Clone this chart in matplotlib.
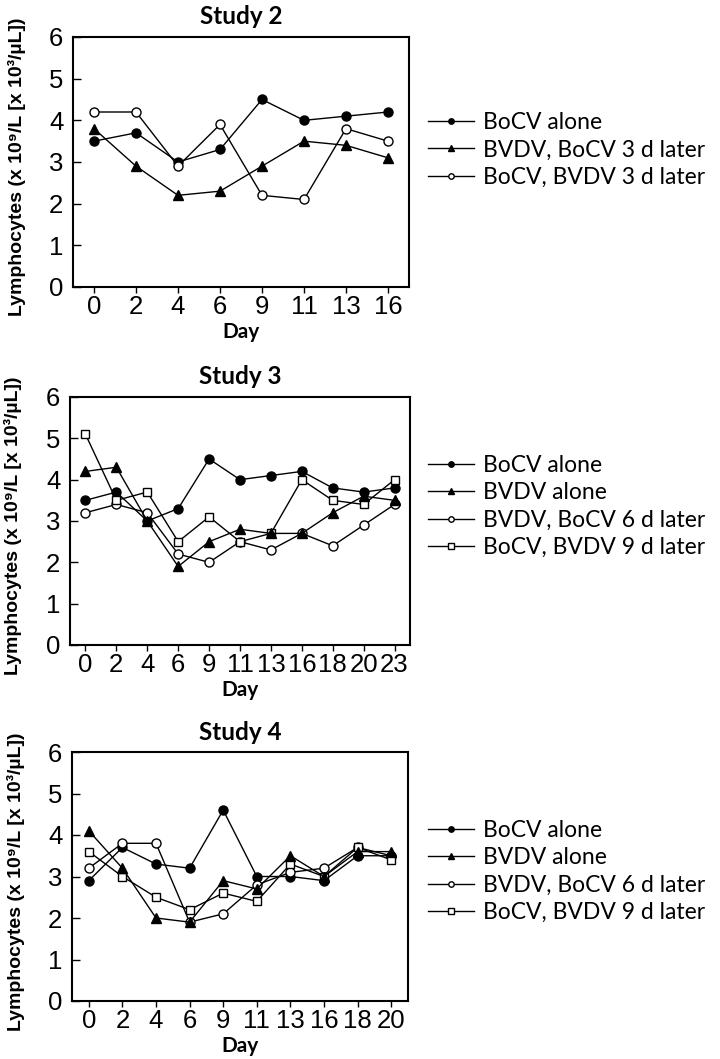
import matplotlib
matplotlib.use("Agg")
import matplotlib.pyplot as plt

W, H = 720, 1059

# Study 2
days2 = ["0", "2", "4", "6", "9", "11", "13", "16"]
s2_bocv_alone = [3.5, 3.7, 3.0, 3.3, 4.5, 4.0, 4.1, 4.2]
s2_bvdv_bocv3 = [3.8, 2.9, 2.2, 2.3, 2.9, 3.5, 3.4, 3.1]
s2_bocv_bvdv3 = [4.2, 4.2, 2.9, 3.9, 2.2, 2.1, 3.8, 3.5]
labels2 = ["BoCV alone", "BVDV, BoCV 3 d later", "BoCV, BVDV 3 d later"]

# Study 3
days3 = ["0", "2", "4", "6", "9", "11", "13", "16", "18", "20", "23"]
s3_bocv_alone = [3.5, 3.7, 3.0, 3.3, 4.5, 4.0, 4.1, 4.2, 3.8, 3.7, 3.8]
s3_bvdv_alone = [4.2, 4.3, 3.0, 1.9, 2.5, 2.8, 2.7, 2.7, 3.2, 3.6, 3.5]
s3_bvdv_bocv6 = [3.2, 3.4, 3.2, 2.2, 2.0, 2.5, 2.3, 2.7, 2.4, 2.9, 3.4]
s3_bocv_bvdv9 = [5.1, 3.5, 3.7, 2.5, 3.1, 2.5, 2.7, 4.0, 3.5, 3.4, 4.0]

# Study 4
days4 = ["0", "2", "4", "6", "9", "11", "13", "16", "18", "20"]
s4_bocv_alone = [2.9, 3.7, 3.3, 3.2, 4.6, 3.0, 3.0, 2.9, 3.5, 3.5]
s4_bvdv_alone = [4.1, 3.2, 2.0, 1.9, 2.9, 2.7, 3.5, 3.0, 3.6, 3.6]
s4_bvdv_bocv6 = [3.2, 3.8, 3.8, 1.9, 2.1, 2.8, 3.1, 3.2, 3.7, 3.5]
s4_bocv_bvdv9 = [3.6, 3.0, 2.5, 2.2, 2.6, 2.4, 3.3, 3.0, 3.7, 3.4]
labels34 = ["BoCV alone", "BVDV alone", "BVDV, BoCV 6 d later", "BoCV, BVDV 9 d later"]

# marker styles: (marker, face, size, zorder)
FILLED_CIRCLE = ("o", "black", 6.5, 3)
TRIANGLE = ("^", "black", 7.0, 6)
OPEN_CIRCLE = ("o", "white", 6.5, 4)
SQUARE = ("s", "white", 6.3, 5)

panels = [
    # title, days, series, styles, labels, axes box px (left, right, top, bottom), legend top px
    ("Study 2", days2, [s2_bocv_alone, s2_bvdv_bocv3, s2_bocv_bvdv3],
     [FILLED_CIRCLE, TRIANGLE, OPEN_CIRCLE], labels2, (73, 409, 37, 287), 112),
    ("Study 3", days3, [s3_bocv_alone, s3_bvdv_alone, s3_bvdv_bocv6, s3_bocv_bvdv9],
     [FILLED_CIRCLE, TRIANGLE, OPEN_CIRCLE, SQUARE], labels34, (70, 410, 397, 645), 455),
    ("Study 4", days4, [s4_bocv_alone, s4_bvdv_alone, s4_bvdv_bocv6, s4_bocv_bvdv9],
     [FILLED_CIRCLE, TRIANGLE, OPEN_CIRCLE, SQUARE], labels34, (72, 408, 752, 1001), 820),
]

YLABEL = "Lymphocytes (x 10\u2079/L [x 10\u00b3/\u00b5L])"

fig = plt.figure(figsize=(W / 100, H / 100), dpi=100)

for title, days, series, styles, labels, box, leg_top in panels:
    l, r, t, b = box
    ax = fig.add_axes([l / W, 1 - b / H, (r - l) / W, (b - t) / H])
    x = list(range(len(days)))
    handles = []
    for vals, (mk, face, ms, z), lab in zip(series, styles, labels):
        h, = ax.plot(x, vals, color="black", lw=1.0, marker=mk, ms=ms,
                     mfc=face, mec="black", mew=1.0, zorder=z, label=lab)
        handles.append(h)

    ax.set_xlim(-0.5, len(days) - 0.5)
    ax.set_ylim(0, 6)
    ax.set_xticks(x)
    ax.set_xticklabels(days)
    ax.set_yticks(range(7))
    for lab in ax.get_xticklabels() + ax.get_yticklabels():
        lab.set_fontfamily("Liberation Sans")
        lab.set_fontsize(18.5)
    ax.tick_params(axis="y", direction="in", length=6, width=1, pad=7)
    ax.tick_params(axis="x", direction="out", length=4.5, width=1, pad=1)
    for sp in ax.spines.values():
        sp.set_linewidth(1.5)

    ax.set_title(title, fontsize=17.5, fontweight="bold", family="Lato", pad=9)
    ax.set_xlabel("Day", fontsize=15, fontweight="bold", family="Lato")
    ax.xaxis.set_label_coords(0.5, -0.141)
    ax.set_ylabel(YLABEL, fontsize=14, fontweight="bold",
                  family=["Liberation Sans", "DejaVu Sans"])
    ax.yaxis.set_label_coords(-0.14, 0.48)

    ax.legend(handles=handles, loc="upper left",
              bbox_to_anchor=(428 / W, 1 - leg_top / H),
              bbox_transform=fig.transFigure, frameon=False,
              borderpad=0, borderaxespad=0, handlelength=2.0,
              handletextpad=0.4, labelspacing=0.28, markerscale=0.6,
              prop={"family": "Lato", "size": 16.5})

fig.savefig("out.png", dpi=100)
